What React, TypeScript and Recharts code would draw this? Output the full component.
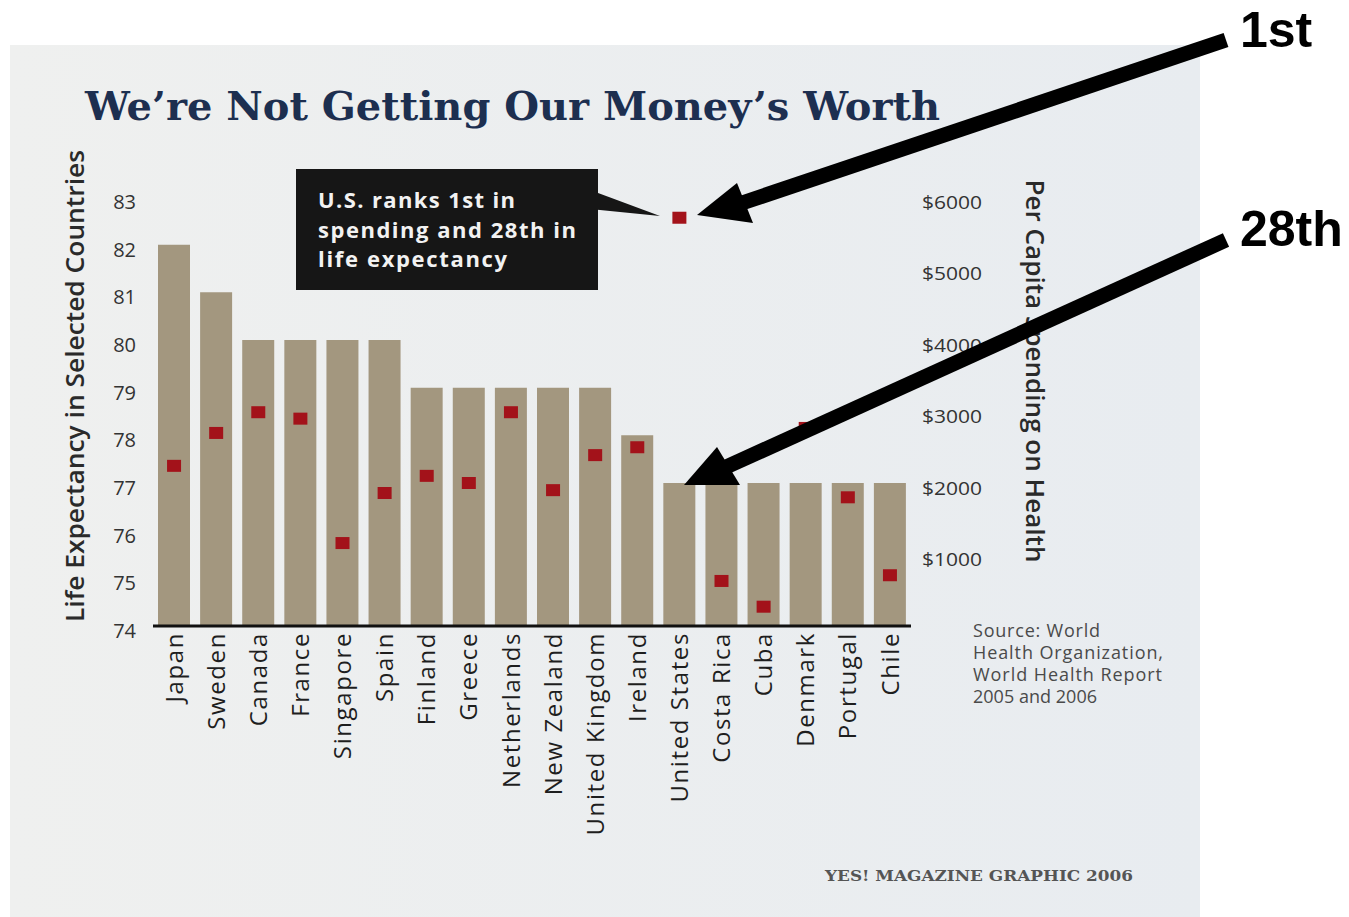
import React from 'react';
import { ComposedChart, Bar, Line, XAxis, YAxis } from 'recharts';

const countries = ['Japan', 'Sweden', 'Canada', 'France', 'Singapore', 'Spain', 'Finland', 'Greece', 'Netherlands', 'New Zealand', 'United Kingdom', 'Ireland', 'United States', 'Costa Rica', 'Cuba', 'Denmark', 'Portugal', 'Chile'];
const lifeExpectancy = [82, 81, 80, 80, 80, 80, 79, 79, 79, 79, 79, 78, 77, 77, 77, 77, 77, 77];
const spending = [2240, 2700, 2990, 2900, 1160, 1860, 2100, 2000, 2990, 1900, 2390, 2500, 5710, 630, 270, 2770, 1800, 710];
const lifeTicks = [74, 75, 76, 77, 78, 79, 80, 81, 82, 83];
const spendTicks = [1000, 2000, 3000, 4000, 5000, 6000];

const data = countries.map((c, i) => ({ country: c, life: lifeExpectancy[i], spend: spending[i] }));

const SANS = '"Open Sans", "DejaVu Sans", sans-serif';
const BAR = '#a3977f';
const RED = '#a3121a';

const XTick = (props: any) => {
  const { x, y, payload } = props;
  const ay = y - 2;
  return (
    <text x={x} y={ay} transform={`rotate(-90, ${x}, ${ay})`} textAnchor="end" dy="0.36em"
      fontFamily={SANS} fontSize={24} letterSpacing={1.6} fill="#1e1e1e">{payload.value}</text>
  );
};

const LeftTick = (props: any) => {
  const { x, y, payload } = props;
  return (
    <text x={x} y={y + 5} textAnchor="end" dy="0.35em" fontFamily={SANS} fontSize={20} fill="#333">{payload.value}</text>
  );
};

const RightTick = (props: any) => {
  const { x, y, payload } = props;
  return (
    <text x={x} y={y + 5} textAnchor="start" dy="0.35em" fontFamily={SANS} fontSize={19} fill="#333"
      textLength={60} lengthAdjust="spacingAndGlyphs">{'$' + payload.value}</text>
  );
};

const SquareDot = (props: any) => {
  const { cx, cy } = props;
  if (cx == null || cy == null) return null;
  return <rect x={cx - 7} y={cy - 6} width={14} height={12} fill={RED} />;
};

export default function App() {
  return (
    <div style={{ position: 'absolute', left: 0, top: 0, width: 1349, height: 917, background: '#ffffff', overflow: 'hidden' }}>
      <svg width={1349} height={917} style={{ position: 'absolute', left: 0, top: 0 }}>
        <defs>
          <linearGradient id="bg" x1="0" y1="0" x2="1" y2="0">
            <stop offset="0" stopColor="#eff0ef" />
            <stop offset="1" stopColor="#e8ecf0" />
          </linearGradient>
        </defs>
        <rect x={10} y={45} width={1190} height={872} fill="url(#bg)" />
      </svg>
      <div style={{ position: 'absolute', left: 0, top: 0 }}>
        <ComposedChart width={1349} height={917} data={data}
          margin={{ top: 197, right: 338, bottom: 91, left: 93 }} barCategoryGap={5}>
          <XAxis dataKey="country" interval={0} tick={<XTick />} tickLine={false}
            axisLine={{ stroke: '#111', strokeWidth: 3 }} height={200} />
          <YAxis yAxisId="left" domain={[74, 83]} ticks={lifeTicks} width={60} tick={<LeftTick />}
            tickLine={false} axisLine={false} tickMargin={11} allowDataOverflow />
          <YAxis yAxisId="right" orientation="right" domain={[0, 6000]} ticks={spendTicks} width={100}
            tick={<RightTick />} tickLine={false} axisLine={false} tickMargin={5} />
          <Bar yAxisId="left" dataKey="life" fill={BAR} isAnimationActive={false} />
          <Line yAxisId="right" dataKey="spend" stroke="none" strokeWidth={0} dot={<SquareDot />}
            activeDot={false} isAnimationActive={false} />
        </ComposedChart>
      </div>
      <svg width={1349} height={917} style={{ position: 'absolute', left: 0, top: 0, pointerEvents: 'none' }}>
        <text x={85} y={120} fontFamily='"DejaVu Serif", serif' fontWeight="bold" fontSize={40} fill="#1d2f50"
          textLength={855} lengthAdjust="spacingAndGlyphs">We’re Not Getting Our Money’s Worth</text>

        <text transform="translate(84, 386) rotate(-90)" textAnchor="middle" fontFamily={SANS} fontSize={26}
          fontWeight={600} fill="#2a2a2a" textLength={472} lengthAdjust="spacingAndGlyphs">Life Expectancy in Selected Countries</text>
        <text transform="translate(1026, 371) rotate(90)" textAnchor="middle" fontFamily={SANS} fontSize={26}
          fontWeight={600} fill="#2a2a2a" textLength={383} lengthAdjust="spacingAndGlyphs">Per Capita Spending on Health</text>

        <polygon points="590,190 590,209 660,216" fill="#161616" />
        <rect x={296} y={169} width={302} height={121} fill="#161616" />
        <text fontFamily={SANS} fontWeight="bold" fontSize={22} fill="#f2f2f2" lengthAdjust="spacingAndGlyphs">
          <tspan x={318} y={208} textLength={197}>U.S. ranks 1st in</tspan>
          <tspan x={318} y={238} textLength={258}>spending and 28th in</tspan>
          <tspan x={318} y={267} textLength={189}>life expectancy</tspan>
        </text>

        <text fontFamily={SANS} fontSize={18} fill="#4a4a4a" lengthAdjust="spacingAndGlyphs">
          <tspan x={973} y={637} textLength={127}>Source: World</tspan>
          <tspan x={973} y={659} textLength={190}>Health Organization,</tspan>
          <tspan x={973} y={681} textLength={189}>World Health Report</tspan>
          <tspan x={973} y={703} textLength={124}>2005 and 2006</tspan>
        </text>
        <text x={825} y={881} fontFamily='"DejaVu Serif", serif' fontWeight="bold" fontSize={14} fill="#555"
          textLength={308} lengthAdjust="spacingAndGlyphs">YES! MAGAZINE GRAPHIC 2006</text>

        <line x1={1226} y1={40} x2={742} y2={203} stroke="#000" strokeWidth={15} />
        <polygon points="697,215 737,183 753,223" fill="#000" />
        <line x1={1226} y1={240} x2={726} y2={467} stroke="#000" strokeWidth={15} />
        <polygon points="684,485 717,447 740,485" fill="#000" />

        <text x={1240} y={47} fontFamily='"Liberation Sans", Arial, sans-serif' fontWeight="bold" fontSize={50} fill="#000">1st</text>
        <text x={1240} y={246} fontFamily='"Liberation Sans", Arial, sans-serif' fontWeight="bold" fontSize={50} fill="#000">28th</text>
      </svg>
    </div>
  );
}
